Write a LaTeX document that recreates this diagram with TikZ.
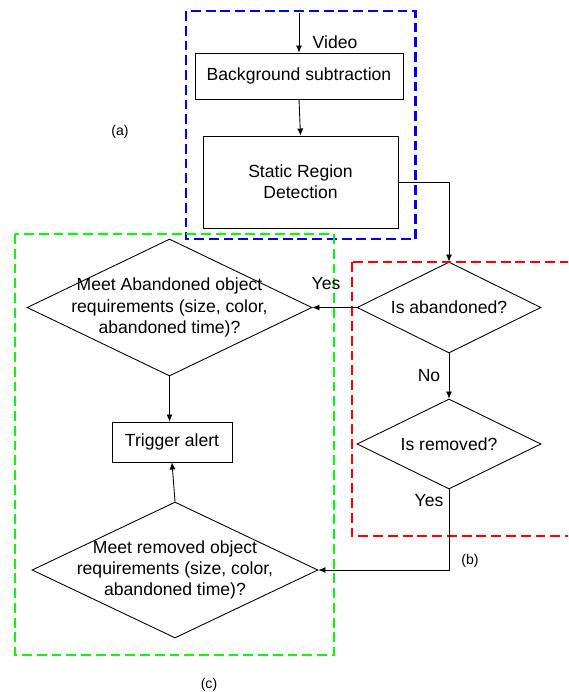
\documentclass[tikz,border=0pt]{standalone}
\usepackage{xcolor}
\usepackage{fontspec}
\setmainfont{Liberation Sans}
\usetikzlibrary{shapes.geometric,arrows.meta,calc}

\begin{document}
\begin{tikzpicture}[x=0.02cm, y=-0.02cm, line width=0.5pt,
  font=\fontsize{10}{12}\selectfont,
  proc/.style={draw, rectangle, inner sep=0pt, align=center},
  decide/.style={draw, diamond, aspect=2, inner sep=0pt},
  arr/.style={-{Latex[length=4pt,width=3.5pt]}},
  frame/.style={line width=1.5pt, dash pattern=on 5.6pt off 2.8pt},
  tag/.style={font=\fontsize{8}{10}\selectfont}]
\useasboundingbox (0,0) rectangle (568,692);
\clip (0,0) rectangle (568,692);

\coordinate (vin) at (299,13);

\node[proc, minimum width=4.16cm, minimum height=0.92cm] (bgs) at (299,76) {Background subtraction};
\node[proc, minimum width=3.9cm, minimum height=1.84cm] (srd) at (300.5,182) {Static Region\\Detection};
\node[decide, minimum width=3.68cm, minimum height=1.82cm] (isab) at (449,307.5) {Is abandoned?};
\node[decide, minimum width=3.68cm, minimum height=1.8cm] (isrm) at (449,444) {Is removed?};
\node[decide, minimum width=5.7cm, minimum height=2.74cm,
  label={[align=center]center:Meet Abandoned object\\requirements (size, color,\\abandoned time)?}] (meetab) at (169.5,307.5) {};
\node[decide, minimum width=5.72cm, minimum height=2.72cm,
  label={[align=center]center:Meet removed object\\requirements (size, color,\\abandoned time)?}] (meetrm) at (175,570) {};
\node[proc, minimum width=2.4cm, minimum height=0.8cm] (trig) at (172,442) {Trigger alert};

% group frames
\draw[frame, blue] (186,11) rectangle (415.5,239);
\draw[frame, red] (352,262) rectangle (600,536);
\draw[frame, green] (15,234) rectangle (334,655);

% flow
\draw[arr] (vin) -- (bgs.north);
\draw[arr] (bgs.south) -- (srd.north);
\draw[arr] (srd.east) -| (isab.north);
\draw[arr] (isab.west) -- (meetab.east);
\draw[arr] (isab.south) -- (isrm.north);
\draw[arr] (isrm.south) |- (meetrm.east);
\draw[arr] (meetab.south) -- (meetab.south |- trig.north);
\draw[arr] (meetrm.north) -- (trig.south);

% texts
\node (video) at (335,42) {Video};
\node (yesab) at (326,284) {Yes};
\node (noab) at (429,376) {No};
\node (yesrm) at (429,501) {Yes};
\node[tag] (taga) at (120,132) {(a)};
\node[tag] (tagb) at (470,561) {(b)};
\node[tag] (tagc) at (209,685) {(c)};
\end{tikzpicture}
\end{document}
